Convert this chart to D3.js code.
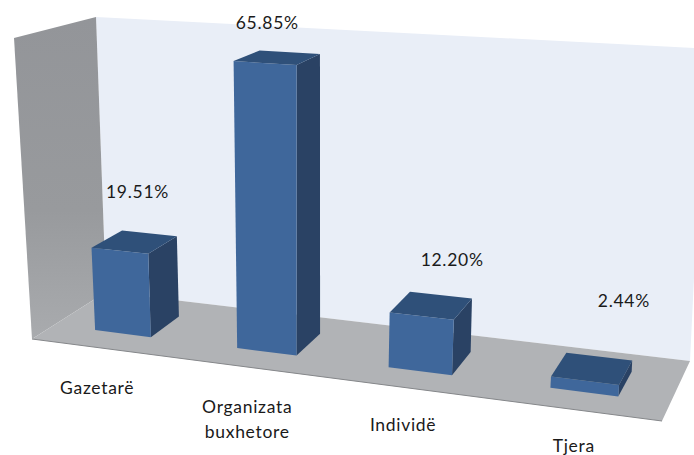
<!DOCTYPE html>
<html>
<head>
<meta charset="utf-8">
<script src="https://cdn.jsdelivr.net/npm/d3@7"></script>
<style>
    html, body { margin: 0; padding: 0; background: #fff; }
    svg { display: block; }
    text { font-family: Lato, "Open Sans", sans-serif; font-size: 17.5px; letter-spacing: 0.7px; fill: #1a1a1a; }
</style>
</head>
<body>
<div id="chart"></div>
<script>
// Chart data
const categories = ['Gazetarë', 'Organizata buxhetore', 'Individë', 'Tjera'];
const values = [19.51, 65.85, 12.20, 2.44];
const valueLabels = ['19.51%', '65.85%', '12.20%', '2.44%'];

// Pixel nudges for the hand placed labels, relative to the projected bar
const valueLabelOffsets = [[3, -44], [-10, -29], [21, -40], [32, -62]];
const categoryLabelLines = [['Gazetarë'], ['Organizata', 'buxhetore'], ['Individë'], ['Tjera']];
const categoryLabelOffsets = [[-5, 46], [-2, 46], [-3, 43], [0, 42]];

const totalWidth = 694;
const totalHeight = 455;

// The eight screen corners of the chart box: [x, y]
const box = {
    floorFrontLeft: [32, 339],
    floorFrontRight: [662, 421],
    floorBackLeft: [106, 292],
    floorBackRight: [690, 361],
    topFrontLeft: [14, 38],
    topFrontRight: [690, 79],
    topBackLeft: [96, 17],
    topBackRight: [705, 48.5]
};

// Perspective squeeze along the category axis
const perspective = 1.14;
const warp = (t) => t / (t + perspective * (1 - t));

// Scales of the box: category, depth, value, all to 0..1
const x = d3.scaleBand().domain(categories).range([0, 1]).paddingInner(0.6).paddingOuter(0.3);
const depth = d3.scaleLinear().domain([0, 1]).range([0.3, 0.72]);
const y = d3.scaleLinear().domain([0, 70]).range([0, 1]);

const mix = (a, b, t) => [d3.interpolateNumber(a[0], b[0])(t), d3.interpolateNumber(a[1], b[1])(t)];

// Project a box position to the screen
function project(u, d, v) {
    const w = warp(u);
    const floor = mix(mix(box.floorFrontLeft, box.floorFrontRight, w), mix(box.floorBackLeft, box.floorBackRight, w), d);
    const top = mix(mix(box.topFrontLeft, box.topFrontRight, w), mix(box.topBackLeft, box.topBackRight, w), d);
    return mix(floor, top, v);
}

const line = d3.line();
const polygon = (points) => line(points) + 'Z';

const svg = d3
    .select('#chart')
    .append('svg')
    .attr('width', totalWidth)
    .attr('height', totalHeight)
    .attr('viewBox', `0 0 ${totalWidth} ${totalHeight}`);

// Gradients of the side wall and the bar faces
const defs = svg.append('defs');

function addGradient(id, x2, y2, stops) {
    const gradient = defs
        .append('linearGradient')
        .attr('id', id)
        .attr('x1', 0)
        .attr('y1', 0)
        .attr('x2', x2)
        .attr('y2', y2);
    stops.forEach((s) => {
        gradient.append('stop').attr('offset', s[0]).attr('stop-color', s[1]);
    });
}

addGradient('sideWall', 0, 1, [[0, '#939599'], [0.6, '#989a9d'], [1, '#a9abae']]);

// Back wall, side wall and floor
svg.append('path')
    .attr('d', polygon([box.floorBackLeft, box.floorBackRight, box.topBackRight, box.topBackLeft]))
    .attr('fill', '#e9eef7');

svg.append('path')
    .attr('d', polygon([box.floorFrontLeft, box.floorBackLeft, box.topBackLeft, box.topFrontLeft]))
    .attr('fill', 'url(#sideWall)');

svg.append('path')
    .attr('d', polygon([box.floorFrontLeft, box.floorFrontRight, box.floorBackRight, box.floorBackLeft]))
    .attr('fill', '#b1b3b6');

svg.append('path')
    .attr('d', line([box.floorFrontLeft, box.floorFrontRight]))
    .attr('fill', 'none')
    .attr('stroke', '#85878a')
    .attr('stroke-width', 1);

// Bars, one group with three visible faces
const bars = categories.map((name, i) => {
    const u0 = x(name);
    const u1 = u0 + x.bandwidth();
    const d0 = depth(0);
    const d1 = depth(1);
    const v = y(values[i]);
    return {
        name,
        front: [project(u0, d0, 0), project(u1, d0, 0), project(u1, d0, v), project(u0, d0, v)],
        side: [project(u1, d0, 0), project(u1, d1, 0), project(u1, d1, v), project(u1, d0, v)],
        top: [project(u0, d0, v), project(u1, d0, v), project(u1, d1, v), project(u0, d1, v)],
        topCentre: project((u0 + u1) / 2, (d0 + d1) / 2, v),
        base: project((u0 + u1) / 2, 0, 0)
    };
});

const barGroups = svg.selectAll('g.bar').data(bars).enter().append('g').attr('class', 'bar');

barGroups.append('path').attr('d', (d) => polygon(d.side)).attr('fill', '#2a4264');
barGroups.append('path').attr('d', (d) => polygon(d.front)).attr('fill', '#3f679b');
barGroups.append('path').attr('d', (d) => polygon(d.top)).attr('fill', '#2f5079');

// Value labels above the bars
svg.selectAll('text.value')
    .data(bars)
    .enter()
    .append('text')
    .attr('class', 'value')
    .attr('text-anchor', 'middle')
    .attr('x', (d, i) => d.topCentre[0] + valueLabelOffsets[i][0])
    .attr('y', (d, i) => d.topCentre[1] + valueLabelOffsets[i][1])
    .text((d, i) => valueLabels[i]);

// Category labels below the floor
const categoryText = svg
    .selectAll('text.category')
    .data(bars)
    .enter()
    .append('text')
    .attr('class', 'category')
    .attr('text-anchor', 'middle');

categoryText.each(function (d, i) {
    categoryLabelLines[i].forEach((label, j) => {
        d3.select(this)
            .append('tspan')
            .attr('x', d.base[0] + categoryLabelOffsets[i][0])
            .attr('y', d.base[1] + categoryLabelOffsets[i][1] + j * 25)
            .text(label);
    });
});
</script>
</body>
</html>
